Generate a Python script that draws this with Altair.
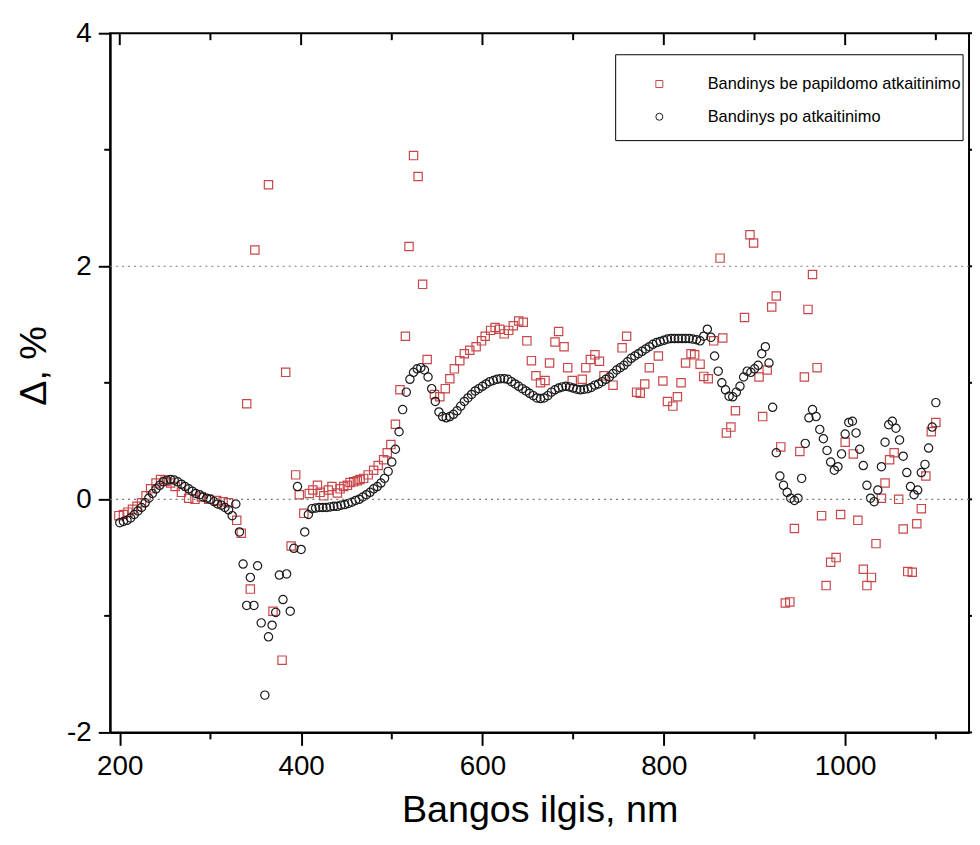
import altair as alt
import pandas as pd

LABEL_SQ = "Bandinys be papildomo atkaitinimo"
LABEL_CI = "Bandinys po atkaitinimo"
series_labels = [LABEL_SQ, LABEL_CI]
series_colors = ["#c8474a", "#1a1a1a"]
series_shapes = ["square", "circle"]

x_major = [200, 400, 600, 800, 1000]
x_minor = [300, 500, 700, 900, 1100]
y_major = [-2, 0, 2, 4]
y_minor = [-1, 1, 3]
y_dotted = [0, 2]
x_domain = [189.4, 1136.6]
y_domain = [-2, 4]

# Sample after annealing (black circles), 4 nm grid
circle_nm = [
    200, 204, 208, 212, 216, 220, 224, 228, 232, 236,
    240, 244, 248, 252, 256, 260, 264, 268, 272, 276,
    280, 284, 288, 292, 296, 300, 304, 308, 312, 316,
    320, 324, 328, 332, 336, 340, 344, 348, 352, 356,
    360, 364, 368, 372, 376, 380, 384, 388, 392, 396,
    400, 404, 408, 412, 416, 420, 424, 428, 432, 436,
    440, 444, 448, 452, 456, 460, 464, 468, 472, 476,
    480, 484, 488, 492, 496, 500, 504, 508, 512, 516,
    520, 524, 528, 532, 536, 540, 544, 548, 552, 556,
    560, 564, 568, 572, 576, 580, 584, 588, 592, 596,
    600, 604, 608, 612, 616, 620, 624, 628, 632, 636,
    640, 644, 648, 652, 656, 660, 664, 668, 672, 676,
    680, 684, 688, 692, 696, 700, 704, 708, 712, 716,
    720, 724, 728, 732, 736, 740, 744, 748, 752, 756,
    760, 764, 768, 772, 776, 780, 784, 788, 792, 796,
    800, 804, 808, 812, 816, 820, 824, 828, 832, 836,
    840, 844, 848, 852, 856, 860, 864, 868, 872, 876,
    880, 884, 888, 892, 896, 900, 904, 908, 912, 916,
    920, 924, 928, 932, 936, 940, 944, 948, 952, 956,
    960, 964, 968, 972, 976, 980, 984, 988, 992, 996,
    1000, 1004, 1008, 1012, 1016, 1020, 1024, 1028, 1032, 1036,
    1040, 1044, 1048, 1052, 1056, 1060, 1064, 1068, 1072, 1076,
    1080, 1084, 1088, 1092, 1096, 1100,
]
circle_delta = [
    -0.20, -0.19, -0.18, -0.16, -0.13, -0.10, -0.07, -0.03, 0.01, 0.05,
    0.09, 0.12, 0.15, 0.165, 0.17, 0.165, 0.15, 0.13, 0.11, 0.09,
    0.07, 0.05, 0.04, 0.02, 0.01, 0.00, -0.02, -0.04, -0.05, -0.07,
    -0.09, -0.14, -0.04, -0.28, -0.555, -0.91, -0.67, -0.91, -0.57, -1.06,
    -1.68, -1.18, -1.08, -0.97, -0.65, -0.86, -0.64, -0.96, -0.42, 0.11,
    -0.43, -0.28, -0.13, -0.08, -0.075, -0.07, -0.07, -0.07, -0.065, -0.06,
    -0.06, -0.05, -0.045, -0.035, -0.025, -0.01, 0.00, 0.02, 0.04, 0.06,
    0.09, 0.11, 0.14, 0.18, 0.24, 0.32, 0.43, 0.58, 0.77, 0.92,
    1.03, 1.09, 1.12, 1.13, 1.11, 1.05, 0.95, 0.84, 0.75, 0.71,
    0.70, 0.71, 0.73, 0.76, 0.80, 0.84, 0.87, 0.90, 0.93, 0.95,
    0.97, 0.99, 1.01, 1.02, 1.03, 1.035, 1.035, 1.03, 1.01, 0.99,
    0.97, 0.95, 0.93, 0.91, 0.89, 0.87, 0.865, 0.87, 0.89, 0.92,
    0.94, 0.955, 0.965, 0.97, 0.965, 0.955, 0.945, 0.94, 0.945, 0.95,
    0.96, 0.98, 0.99, 1.01, 1.03, 1.05, 1.08, 1.11, 1.13, 1.15,
    1.18, 1.21, 1.23, 1.25, 1.27, 1.29, 1.31, 1.33, 1.345, 1.355,
    1.365, 1.375, 1.38, 1.38, 1.38, 1.38, 1.38, 1.38, 1.375, 1.37,
    1.36, 1.40, 1.46, 1.39, 1.23, 1.10, 1.00, 0.94, 0.885, 0.88,
    0.92, 0.97, 1.05, 1.10, 1.09, 1.12, 1.15, 1.25, 1.31, 1.17,
    0.79, 0.40, 0.20, 0.12, 0.06, 0.01, -0.01, 0.01, 0.18, 0.48,
    0.70, 0.77, 0.71, 0.60, 0.52, 0.42, 0.32, 0.25, 0.28, 0.39,
    0.56, 0.66, 0.67, 0.57, 0.43, 0.29, 0.12, 0.01, -0.02, 0.08,
    0.28, 0.49, 0.64, 0.67, 0.61, 0.51, 0.37, 0.23, 0.11, 0.04,
    0.08, 0.23, 0.30, 0.44, 0.62, 0.83,
]

# Sample without additional annealing (red squares)
square_nm = [
    199, 204, 209, 214, 219, 224, 229, 234, 240, 245,
    250, 256, 261, 268, 276, 283, 290, 298, 307, 314,
    320, 329, 334, 340, 344, 349, 364, 369, 379, 383,
    389, 394, 398, 403, 409, 413, 418, 421, 425, 430,
    434, 440, 443, 447, 451, 454, 458, 462, 465, 469,
    474, 480, 485, 491, 495, 499, 504, 509, 515, 519,
    524, 529, 534, 539, 547, 553, 559, 564, 569, 575,
    580, 586, 593, 599, 603, 609, 614, 619, 624, 629,
    634, 640, 645, 649, 654, 659, 664, 669, 674, 680,
    684, 690, 694, 699, 710, 714, 719, 724, 729, 734,
    744, 754, 759, 770, 774, 779, 784, 794, 799, 804,
    810, 815, 819, 824, 830, 834, 840, 844, 849, 855,
    862, 865, 869, 874, 879, 889, 895, 899, 905, 909,
    914, 919, 924, 929, 934, 939, 944, 950, 955, 959,
    964, 969, 974, 979, 984, 990, 995, 1000, 1009, 1014,
    1020, 1024, 1029, 1034, 1040, 1044, 1049, 1054, 1059, 1064,
    1069, 1074, 1079, 1084, 1089, 1095, 1100,
]
square_delta = [
    -0.14, -0.13, -0.11, -0.085, -0.06, -0.03, 0.03, 0.09, 0.14, 0.17,
    0.155, 0.14, 0.11, 0.06, 0.01, 0.00, 0.02, 0.00, -0.01, -0.02,
    -0.03, -0.18, -0.29, 0.82, -0.77, 2.14, 2.70, -0.96, -1.38, 1.09,
    -0.40, 0.21, 0.04, -0.12, 0.05, 0.08, 0.12, 0.06, 0.03, 0.08,
    0.11, 0.055, 0.09, 0.11, 0.12, 0.145, 0.15, 0.16, 0.17, 0.18,
    0.21, 0.25, 0.29, 0.34, 0.40, 0.47, 0.645, 0.94, 1.40, 2.17,
    2.95, 2.77, 1.845, 1.20, 0.90, 0.88, 0.95, 1.035, 1.12, 1.19,
    1.25, 1.28, 1.31, 1.36, 1.40, 1.45, 1.475, 1.46, 1.42, 1.45,
    1.49, 1.53, 1.52, 1.36, 1.19, 1.06, 1.00, 1.02, 1.17, 1.35,
    1.44, 1.31, 1.13, 1.02, 1.03, 1.13, 1.20, 1.24, 1.185, 1.06,
    0.98, 1.30, 1.40, 0.92, 0.91, 0.99, 1.13, 1.23, 1.015, 0.84,
    0.80, 0.88, 1.00, 1.17, 1.25, 1.24, 1.16, 1.055, 1.035, 1.36,
    2.07, 1.385, 0.57, 0.62, 0.76, 1.56, 2.27, 2.20, 1.05, 0.71,
    1.11, 1.65, 1.745, 0.45, -0.89, -0.88, -0.25, 0.41, 1.05, 1.63,
    1.93, 1.13, -0.14, -0.74, -0.54, -0.50, -0.13, 0.49, 0.39, -0.18,
    -0.60, -0.74, -0.67, -0.38, 0.01, 0.14, 0.34, 0.40, 0.00, -0.255,
    -0.62, -0.625, -0.21, -0.08, 0.20, 0.58, 0.66,
]

df = pd.concat(
    [
        pd.DataFrame({"nm": square_nm, "delta": square_delta, "series": LABEL_SQ}),
        pd.DataFrame({"nm": circle_nm, "delta": circle_delta, "series": LABEL_CI}),
    ],
    ignore_index=True,
)

FONT = "Liberation Sans"
W, H = 866, 705

xs = alt.Scale(domain=x_domain, nice=False, zero=False)
ys = alt.Scale(domain=y_domain, nice=False, zero=False)

legend = alt.Legend(
    title=None, orient="none", legendX=545.5, legendY=43, padding=0,
    labelOffset=40.5, rowPadding=16, labelFontSize=16.5, labelFont=FONT,
    labelColor="black", symbolSize=50, symbolStrokeWidth=1, labelLimit=600,
)

points = alt.Chart(df).mark_point(filled=False, size=70, strokeWidth=1.2, opacity=1).encode(
    x=alt.X("nm:Q", scale=xs, axis=alt.Axis(
        values=x_major, title="Bangos ilgis, nm", grid=False,
        tickSize=13, tickWidth=2, tickColor="black", domain=True, domainColor="black", domainWidth=2,
        labels=True, labelFontSize=28, labelPadding=7, labelColor="black", labelFont=FONT,
        labelFlush=False, labelOverlap=False, format="d",
        titleFontSize=38, titleFont=FONT, titleFontWeight="normal", titleColor="black",
        titleX=433, titleY=90, titleAlign="center", titleBaseline="alphabetic")),
    y=alt.Y("delta:Q", scale=ys, axis=alt.Axis(
        values=y_major, title="Δ, %", grid=False,
        tickSize=12, tickWidth=2, tickColor="black", domain=True, domainColor="black", domainWidth=2,
        labels=True, labelFontSize=28, labelPadding=7, labelColor="black", labelFont=FONT,
        labelFlush=False, labelOverlap=False, labelExpr="'' + datum.value",
        titleFontSize=38, titleFont=FONT, titleFontWeight="normal", titleColor="black",
        titleAngle=270, titleX=-76, titleY=335, titleAlign="center", titleBaseline="middle")),
    color=alt.Color("series:N", scale=alt.Scale(domain=series_labels, range=series_colors), legend=legend),
    shape=alt.Shape("series:N", scale=alt.Scale(domain=series_labels, range=series_shapes), legend=legend),
)

dotted = alt.Chart(pd.DataFrame({"delta": y_dotted})).mark_rule(
    color="#7a7a7a", strokeWidth=1.2, strokeDash=[2, 4]
).encode(y=alt.Y("delta:Q", scale=ys), x=alt.value(0), x2=alt.value(W))

def xticks(vals, y0, y1):
    return alt.Chart(pd.DataFrame({"nm": vals})).mark_rule(color="black", strokeWidth=2).encode(
        x=alt.X("nm:Q", scale=xs), y=alt.value(y0), y2=alt.value(y1))

def yticks(vals, x0, x1):
    return alt.Chart(pd.DataFrame({"delta": vals})).mark_rule(color="black", strokeWidth=2).encode(
        y=alt.Y("delta:Q", scale=ys), x=alt.value(x0), x2=alt.value(x1))

bottom_minor = xticks(x_minor, H, H + 7)
top_major = xticks(x_major, 0, 12)
top_minor = xticks(x_minor, 0, 7)
left_minor = yticks(y_minor, 0, -6)
right_major = yticks(y_major, W, W + 12)
right_minor = yticks(y_minor, W, W + 6)

legend_box = alt.Chart(pd.DataFrame({"b": [0]})).mark_rect(
    fill="white", stroke="black", strokeWidth=1
).encode(x=alt.value(509.7), x2=alt.value(860), y=alt.value(21.7), y2=alt.value(108.3))

chart = alt.layer(
    points, dotted, legend_box, bottom_minor, top_major, top_minor, left_minor, right_major, right_minor
).properties(
    width=W, height=H,
    autosize=alt.AutoSizeParams(type="none"),
    padding={"left": 103, "top": 22, "right": 3, "bottom": 98},
).configure(font=FONT, background="white").configure_view(stroke="black", strokeWidth=2)

chart.save("out.html", embed_options={"renderer": "svg", "actions": False})
